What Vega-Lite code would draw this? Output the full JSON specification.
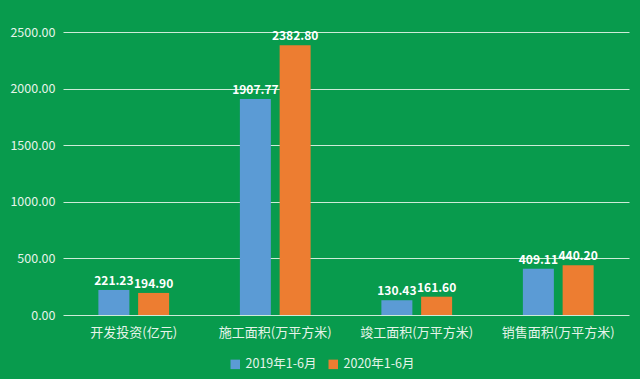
{
  "$schema": "https://vega.github.io/schema/vega-lite/v6.json",
  "width": 566,
  "height": 283,
  "autosize": {"type": "none"},
  "padding": {"left": 63, "top": 32, "right": 11, "bottom": 64},
  "background": "#089b4d",
  "config": {
    "view": {"stroke": null},
    "font": "Noto Sans CJK SC"
  },
  "data": {
    "values": [
      {"cat": "开发投资(亿元)", "period": "2019年1-6月", "v": 221.23},
      {"cat": "开发投资(亿元)", "period": "2020年1-6月", "v": 194.90},
      {"cat": "施工面积(万平方米)", "period": "2019年1-6月", "v": 1907.77},
      {"cat": "施工面积(万平方米)", "period": "2020年1-6月", "v": 2382.80},
      {"cat": "竣工面积(万平方米)", "period": "2019年1-6月", "v": 130.43},
      {"cat": "竣工面积(万平方米)", "period": "2020年1-6月", "v": 161.60},
      {"cat": "销售面积(万平方米)", "period": "2019年1-6月", "v": 409.11},
      {"cat": "销售面积(万平方米)", "period": "2020年1-6月", "v": 440.20}
    ]
  },
  "encoding": {
    "x": {
      "field": "cat", "type": "nominal", "sort": null,
      "scale": {"paddingInner": 0.5, "paddingOuter": 0.25},
      "axis": {
        "title": null, "labelAngle": 0, "ticks": false, "domain": false,
        "labelColor": "#e6f4ea", "labelFontSize": 13, "labelPadding": 11,
        "labelFont": "Noto Sans CJK SC"
      }
    },
    "xOffset": {"field": "period", "type": "nominal", "scale": {"paddingInner": 0.22}},
    "y": {
      "field": "v", "type": "quantitative",
      "scale": {"domain": [0, 2500]},
      "axis": {
        "title": null, "values": [0, 500, 1000, 1500, 2000, 2500], "format": ".2f",
        "ticks": false, "domain": false, "gridColor": "#d8efdf", "gridOpacity": 0.95,
        "labelColor": "#e6f4ea", "labelFontSize": 12.5, "labelPadding": 8
      }
    }
  },
  "layer": [
    {
      "mark": {"type": "bar"},
      "encoding": {
        "color": {
          "field": "period", "type": "nominal",
          "scale": {"range": ["#5b9bd5", "#ed7d31"]},
          "legend": {
            "title": null, "orient": "none", "legendX": 166, "legendY": 326,
            "direction": "horizontal", "symbolType": "square", "symbolSize": 90,
            "labelColor": "#e6f4ea", "labelFontSize": 12.5, "columnPadding": 10,
            "symbolStrokeWidth": 0
          }
        }
      }
    },
    {
      "mark": {"type": "text", "dy": -9, "fontWeight": "bold", "fontSize": 12, "color": "#ffffff"},
      "encoding": {
        "text": {"field": "v", "type": "quantitative", "format": ".2f"}
      }
    }
  ]
}
